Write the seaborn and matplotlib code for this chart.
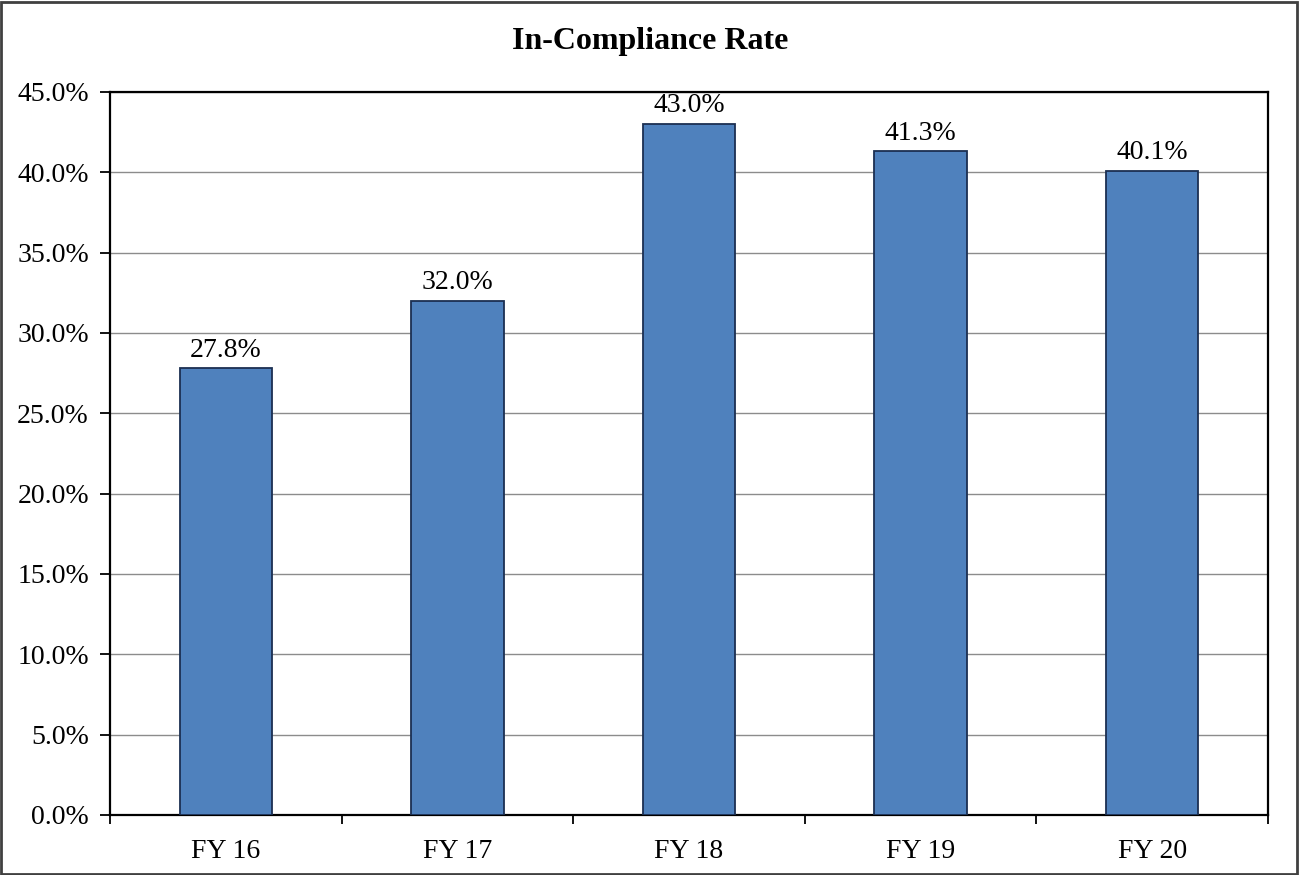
import numpy as np
import matplotlib
matplotlib.use("Agg")
import matplotlib.pyplot as plt
import seaborn as sns
from matplotlib.patches import Rectangle
from matplotlib.ticker import FixedLocator, FuncFormatter

years = ["FY 16", "FY 17", "FY 18", "FY 19", "FY 20"]
rates = [27.8, 32.0, 43.0, 41.3, 40.1]
y_ticks = [0, 5, 10, 15, 20, 25, 30, 35, 40, 45]

sns.set_style("white")
plt.rcParams['font.family'] = ['Liberation Serif', 'DejaVu Serif']
plt.rcParams['text.color'] = 'black'
plt.rcParams['xtick.color'] = 'black'
plt.rcParams['ytick.color'] = 'black'
plt.rcParams['xtick.bottom'] = True
plt.rcParams['ytick.left'] = True

fig = plt.figure(figsize=(13.01, 8.75), dpi=100)
ax = fig.add_axes([0.0846, 0.0686, 0.8900, 0.8263])

sns.barplot(x=years, y=rates, color="#4F81BD", edgecolor="#1B2F52", linewidth=1.3,
            width=0.4, saturation=1, ax=ax, zorder=3)

ax.set_ylim(0, 45)
ax.set_xlim(-0.5, len(years) - 0.5)
ax.set_yticks(y_ticks)
ax.yaxis.set_major_formatter(FuncFormatter(lambda v, p: f"{v:.1f}%"))
ax.yaxis.grid(True, color="#8c8c8c", linewidth=1.0, zorder=0)
ax.set_axisbelow(True)

# ticks at category boundaries
ax.xaxis.set_minor_locator(FixedLocator(np.arange(-0.5, len(years), 1.0)))
ax.tick_params(axis="x", which="major", length=0, labelsize=20, pad=17, labelcolor="black")
ax.tick_params(axis="x", which="minor", length=6.5, width=1.3, color="black",
               direction="out", bottom=True)
ax.tick_params(axis="y", which="major", length=7.2, width=1.3, color="black", direction="out",
               labelsize=20, pad=8, left=True, labelcolor="black")
ax.set_xlabel("")
ax.set_ylabel("")

for s in ax.spines.values():
    s.set_color("black")
    s.set_linewidth(1.6)

for i, v in enumerate(rates):
    ax.text(i, v + 0.35, f"{v:.1f}%", ha="center", va="bottom", fontsize=20, color="black")

fig.text(0.5, 0.953, "In-Compliance Rate", ha="center", va="center",
         fontsize=23, fontweight="bold", color="black")

fig.patches.append(Rectangle((0.001, 0.001), 0.996, 0.997, transform=fig.transFigure,
                             fill=False, edgecolor="#404040", linewidth=2))

fig.savefig("out.png", dpi=100)
